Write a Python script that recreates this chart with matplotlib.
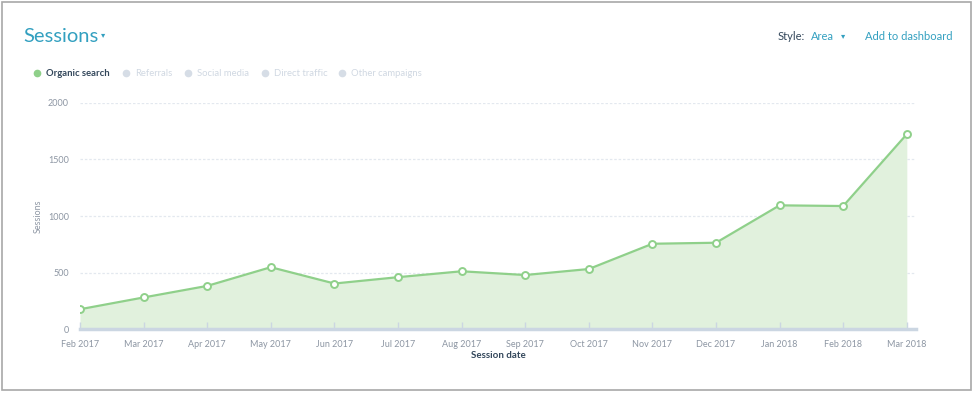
import matplotlib
matplotlib.use("Agg")
import matplotlib.pyplot as plt
from matplotlib.patches import Rectangle
from matplotlib.lines import Line2D

plt.rcParams['font.family'] = ['Lato', 'DejaVu Sans']

# data
months = ["Feb 2017", "Mar 2017", "Apr 2017", "May 2017", "Jun 2017", "Jul 2017",
          "Aug 2017", "Sep 2017", "Oct 2017", "Nov 2017", "Dec 2017", "Jan 2018",
          "Feb 2018", "Mar 2018"]
organic = [177, 281, 383, 548, 404, 460, 512, 479, 532, 755, 764, 1094, 1088, 1722]
yticks = [0, 500, 1000, 1500, 2000]
legend_names = ["Organic search", "Referrals", "Social media", "Direct traffic", "Other campaigns"]
legend_x = [37, 126, 188, 265, 342]

W, H = 974, 393
teal = "#33a0c0"
dark = "#33475b"
grey = "#8d96a3"
faded = "#cbd6e2"
green = "#8fd08a"
fill = "#e1f1dd"

fig = plt.figure(figsize=(W / 100, H / 100), dpi=100)
fig.patch.set_facecolor("white")

def fx(px):
    return px / W

def fy(py):
    return 1 - py / H

# screenshot frame
fig.patches.append(Rectangle((fx(2), fy(390)), fx(969), (388) / H, transform=fig.transFigure,
                             fill=False, edgecolor="#a8a8a8", linewidth=1.2))

ax = fig.add_axes([fx(80), fy(329.3), fx(916 - 80), (329.3 - 102.7) / H])
x = list(range(len(months)))
ax.fill_between(x, organic, 0, color=fill, linewidth=0, zorder=1)
ax.plot(x, organic, color=green, linewidth=1.6, zorder=3)
ax.plot(x, organic, linestyle="none", marker="o", markersize=5, markerfacecolor="white",
        markeredgecolor=green, markeredgewidth=1.4, zorder=4)

ax.set_xlim(0, (916 - 80) / 63.6)
ax.set_ylim(0, 2000)
ax.set_yticks(yticks)
ax.set_yticklabels([str(v) for v in yticks])
ax.set_xticks(x)
ax.set_xticklabels(months)
for v in yticks[1:]:
    ax.axhline(v, color="#e3e8ef", linewidth=0.9, linestyle=(0, (2, 1.5)), zorder=0)

for s in ["top", "right", "left"]:
    ax.spines[s].set_visible(False)
ax.spines["bottom"].set_color(faded)
ax.spines["bottom"].set_linewidth(2.5)
ax.tick_params(axis="x", direction="in", length=5, width=1, color=faded,
               labelsize=6.5, labelcolor=grey, pad=8)
ax.tick_params(axis="y", length=0, labelsize=6.5, labelcolor=grey, pad=8)
ax.set_xlabel("Session date", fontsize=7, fontweight="bold", color=dark, labelpad=1)
ax.set_ylabel("Sessions", fontsize=6.5, color=grey)
ax.yaxis.set_label_coords((43 - 80) / 836, 0.5)

# header
fig.text(fx(23), fy(36), "Sessions", fontsize=14.5, color=teal, va="center", ha="left")
fig.text(fx(103), fy(35), "▾", fontsize=6, color=teal, va="center", ha="center",
         family=["DejaVu Sans"])
fig.text(fx(778), fy(36), "Style:", fontsize=8, color=dark, va="center", ha="left")
fig.text(fx(811), fy(37), "Area", fontsize=8, color=teal, va="center", ha="left")
fig.text(fx(843), fy(36), "▾", fontsize=6, color=teal, va="center", ha="center",
         family=["DejaVu Sans"])
fig.text(fx(865), fy(36), "Add to dashboard", fontsize=8, color=teal, va="center", ha="left")

# legend
for i, (name, lx) in enumerate(zip(legend_names, legend_x)):
    c = green if i == 0 else "#d6dde6"
    tc = dark if i == 0 else "#d0d8e2"
    fig.add_artist(Line2D([fx(lx)], [fy(73)], transform=fig.transFigure, marker="o",
                          markersize=4.5, color=c, linestyle="none"))
    fig.text(fx(lx + 9), fy(74), name, fontsize=6.8, color=tc, va="center", ha="left",
             fontweight="bold" if i == 0 else "normal")

plt.savefig("out.png", dpi=100)
